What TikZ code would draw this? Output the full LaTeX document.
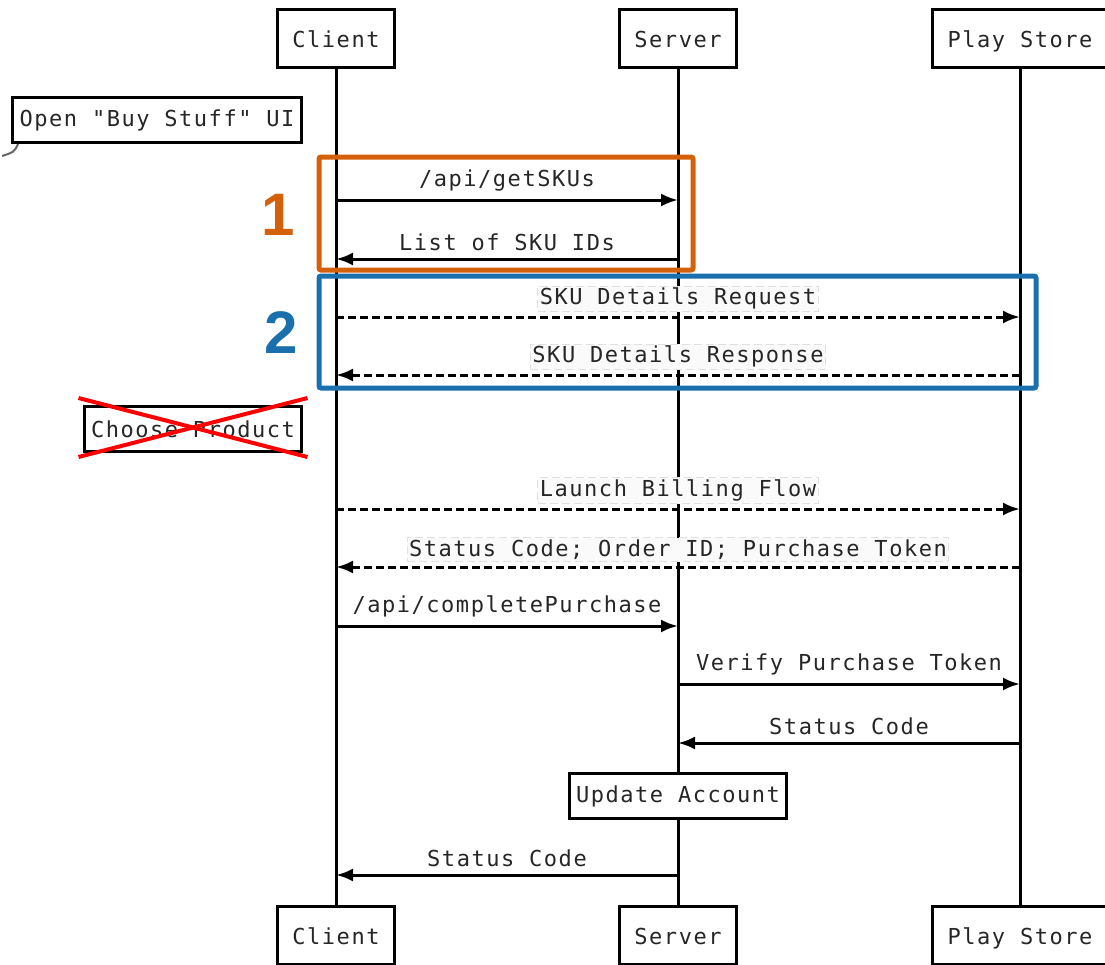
\documentclass[tikz,border=0pt]{standalone}
\usepackage{fontspec}
\setmainfont{Liberation Sans}
\newfontfamily\seqfont[LetterSpace=7]{DejaVu Sans Mono}
\usetikzlibrary{arrows.meta}
\definecolor{stepone}{HTML}{D5600A}
\definecolor{steptwo}{HTML}{1A6FAD}
\tikzset{
  seqtext/.style={font=\seqfont\fontsize{22}{26}\selectfont, text=black!85},
  actor/.style={seqtext, draw, line width=3pt, fill=white, inner xsep=15pt, minimum height=58pt,
    text height=19pt, text depth=1pt},
  note/.style={seqtext, draw, line width=3pt, fill=white, inner xsep=7pt, minimum height=45pt},
  lifeline/.style={line width=3pt},
  msg/.style={line width=3pt, -{Latex[length=17pt,width=13pt]}},
  async/.style={msg, dash pattern=on 8pt off 4pt},
  lbl/.style={seqtext, above=4pt, inner sep=3pt},
  boxlbl/.style={seqtext, above=5pt, inner sep=2pt, draw=black!12, fill=black!2, line width=1pt},
  group/.style={line width=5pt, rounded corners=2pt},
  stepnum/.style={font=\bfseries\fontsize{60}{60}\selectfont},
}
\begin{document}
\begin{tikzpicture}[x=1pt, y=-1pt]
\useasboundingbox (0,0) rectangle (1105,964);
% actors
\node[actor] (client) at (336,38) {Client};
\node[actor] (server) at (678,38) {Server};
\node[actor] (store) at (1020,38) {Play Store};
\node[actor] (client2) at (336,935) {Client};
\node[actor] (server2) at (678,935) {Server};
\node[actor] (store2) at (1020,935) {Play Store};
\draw[lifeline] (client) -- (client2);
\draw[lifeline] (server) -- (server2);
\draw[lifeline] (store) -- (store2);
% points on the lifelines
\foreach \name/\y in {get/200, ids/259, req/317, resp/375, launch/509, status/567,
                      complete/626, verify/684, code/743, done/875} {
  \coordinate (c-\name) at (client |- 0,\y);
  \coordinate (s-\name) at (server |- 0,\y);
  \coordinate (p-\name) at (store |- 0,\y);
}
% notes
\node[note] (open) at (157,120) {Open "Buy Stuff" UI};
\draw[black!60, line width=2pt] ([xshift=7pt]open.south west) .. controls ++(-4,8) .. ++(-16,12);
\node[note] (choose) at (193,429) {Choose Product};
\draw[red, line width=4pt] ([shift={(-4,-7)}]choose.north west) -- ([shift={(4,4)}]choose.south east);
\draw[red, line width=4pt] ([shift={(-4,4)}]choose.south west) -- ([shift={(4,-7)}]choose.north east);
% messages
\draw[msg] (c-get) -- (s-get) node[lbl, midway] {/api/getSKUs};
\draw[msg] (s-ids) -- (c-ids) node[lbl, midway] {List of SKU IDs};
\draw[async] (c-req) -- (p-req) node[boxlbl, midway] {SKU Details Request};
\draw[async] (p-resp) -- (c-resp) node[boxlbl, midway] {SKU Details Response};
\draw[async] (c-launch) -- (p-launch) node[boxlbl, midway] {Launch Billing Flow};
\draw[async] (p-status) -- (c-status) node[boxlbl, midway] {Status Code; Order ID; Purchase Token};
\draw[msg] (c-complete) -- (s-complete) node[lbl, midway] {/api/completePurchase};
\draw[msg] (s-verify) -- (p-verify) node[lbl, midway] {Verify Purchase Token};
\draw[msg] (p-code) -- (s-code) node[lbl, midway] {Status Code};
\node[note] (update) at (678,796) {Update Account};
\draw[msg] (s-done) -- (c-done) node[lbl, midway] {Status Code};
% highlighted steps
\draw[group, stepone] (319,157) rectangle (693,270);
\node[stepnum, text=stepone] (one) at (278,215) {1};
\draw[group, steptwo] (319,276) rectangle (1036,388);
\node[stepnum, text=steptwo] (two) at (281,333) {2};
\end{tikzpicture}
\end{document}
